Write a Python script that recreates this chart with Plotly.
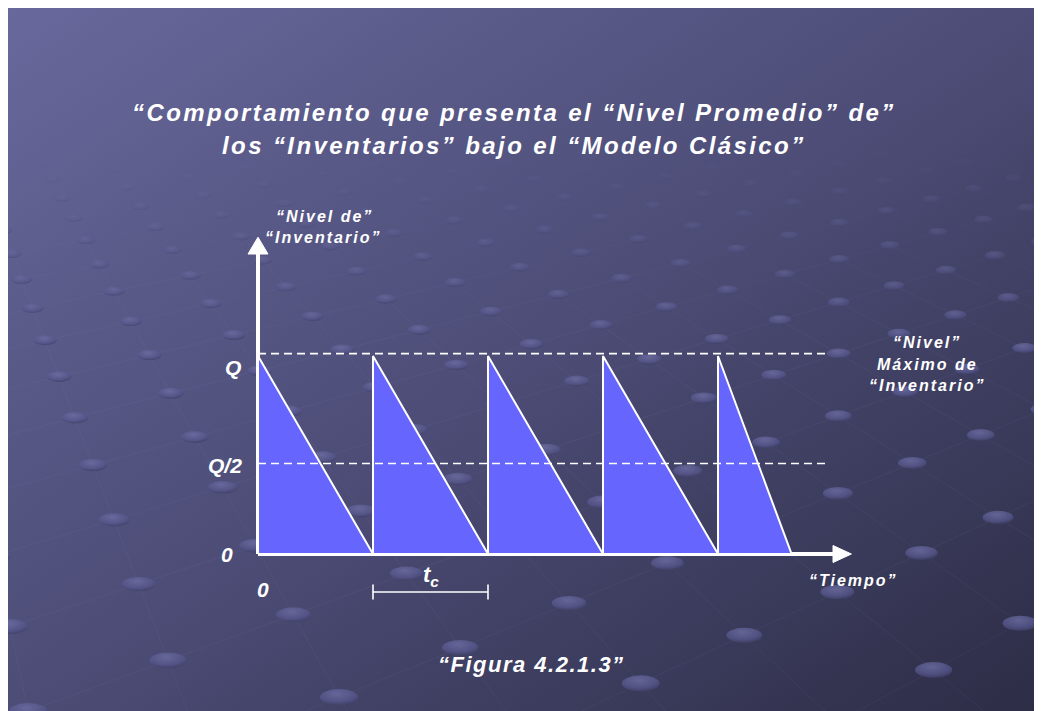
import base64
import math
import plotly.graph_objects as go

W, H = 1042, 711
OFF = 8            # page margin offset

# ---------------- data ----------------
cycle_starts = [0, 1, 2, 3, 4]          # reorder instants (in units of t_c)
cycle_ends = [1, 2, 3, 4, 4.64]         # instants where stock reaches zero
Q_max = 1.0                             # maximum inventory level (Q)
half_line = 0.445                       # drawn position of the "Q/2" reference line
level_values = [Q_max, half_line, 0.0]
level_labels = ["Q", "Q/2", "0"]
ref_lines = [Q_max, half_line]
ref_line_end = 4.957
x_axis_end = 5.16
y_axis_end = 1.60
tc_span = [1, 2]

# ---------------- scales ----------------
x0_px, x_scale = 258 - OFF, 115.0
y0_px, y_scale = 554 - OFF, 198.0
x_range = [-x0_px / x_scale, (W - x0_px) / x_scale]
y_range = [-(H - y0_px) / y_scale, y0_px / y_scale]

FONT = "Arial, Liberation Sans, sans-serif"
WHITE = "#ffffff"
FILL = "#6666ff"

fig = go.Figure()

# axes (drawn first)
ax_w = 4
fig.add_trace(go.Scatter(x=[0, x_axis_end - 0.15], y=[0, 0], mode="lines",
                         line=dict(color=WHITE, width=ax_w), hoverinfo="skip", showlegend=False))
fig.add_trace(go.Scatter(x=[0, 0], y=[0, y_axis_end - 0.07], mode="lines",
                         line=dict(color=WHITE, width=ax_w), hoverinfo="skip", showlegend=False))
# arrow heads
hx = 0.16
hy = 8.5 / y_scale
fig.add_trace(go.Scatter(x=[x_axis_end - hx, x_axis_end, x_axis_end - hx, x_axis_end - hx],
                         y=[hy, 0, -hy, hy], mode="lines", fill="toself", fillcolor=WHITE,
                         line=dict(color=WHITE, width=1), hoverinfo="skip", showlegend=False))
vx = 10.0 / x_scale
vy = 0.085
fig.add_trace(go.Scatter(x=[-vx, 0, vx, -vx], y=[y_axis_end - vy, y_axis_end, y_axis_end - vy, y_axis_end - vy],
                         mode="lines", fill="toself", fillcolor=WHITE,
                         line=dict(color=WHITE, width=1), hoverinfo="skip", showlegend=False))

# saw-tooth inventory triangles
for s, e in zip(cycle_starts, cycle_ends):
    fig.add_trace(go.Scatter(x=[s, s, e, s], y=[0, Q_max, 0, 0], mode="lines",
                             fill="toself", fillcolor=FILL,
                             line=dict(color=WHITE, width=2), hoverinfo="skip", showlegend=False))

# dashed reference lines
for lv in ref_lines:
    fig.add_trace(go.Scatter(x=[0, ref_line_end], y=[lv + 0.012, lv + 0.012], mode="lines",
                             line=dict(color=WHITE, width=1.6, dash="8px,5px"),
                             hoverinfo="skip", showlegend=False))

# t_c bracket
yb = -0.192
tk = 0.038
fig.add_trace(go.Scatter(x=[tc_span[0], tc_span[0], None, tc_span[0], tc_span[1], None, tc_span[1], tc_span[1]],
                         y=[yb - tk, yb + tk, None, yb, yb, None, yb - tk, yb + tk], mode="lines",
                         line=dict(color=WHITE, width=1.6), hoverinfo="skip", showlegend=False))

ann = []


def txt(x, y, text, size, xref="paper", yref="paper", ls=0):
    if xref == "paper":
        x = (x - OFF) / W
    if yref == "paper":
        y = 1 - (y - OFF) / H
    if ls:
        text = f'<span style="letter-spacing:{ls}px">' + text + "</span>"
    ann.append(dict(x=x, y=y, xref=xref, yref=yref, text="<b><i>" + text + "</i></b>", showarrow=False,
                    xanchor="center", yanchor="middle",
                    font=dict(family=FONT, size=size, color=WHITE)))


# title
txt(514, 112, "\u201cComportamiento que presenta el \u201cNivel Promedio\u201d de\u201d", 24, ls=2.4)
txt(514, 145, "los \u201cInventarios\u201d bajo el \u201cModelo Cl\u00e1sico\u201d", 24, ls=2.4)

# level labels (data coordinates)
label_x = [-0.22, -0.29, -0.27]
label_dy = [-0.06, 0.0, 0.0]
for lx, lv, lb, dy in zip(label_x, level_values, level_labels, label_dy):
    txt(lx, lv + dy, lb, 21, xref="x", yref="y")
txt(0.04, -0.18, "0", 21, xref="x", yref="y")

# t_c label
txt((tc_span[0] + tc_span[1]) / 2, -0.11, "t<sub>c</sub>", 22, xref="x", yref="y")

# axis titles
txt(324, 216, "\u201cNivel de\u201d", 16, ls=2)
txt(323, 238, "\u201cInventario\u201d", 16, ls=2)
txt(853, 580, "\u201cTiempo\u201d", 16, ls=2)
txt(927, 343, "\u201cNivel\u201d", 16, ls=2)
txt(927, 364, "M\u00e1ximo de", 16, ls=2)
txt(927, 385, "\u201cInventario\u201d", 16, ls=2)

# caption
txt(531, 664, "\u201cFigura 4.2.1.3\u201d", 22, ls=1.5)

# ---------------- slide background texture (gradient + perspective dot grid) ----------------
parts = []
parts.append(f'<svg xmlns="http://www.w3.org/2000/svg" width="{W}" height="{H}" viewBox="0 0 {W} {H}">')
parts.append('<defs><linearGradient id="g" x1="0" y1="0" x2="1" y2="1">'
             '<stop offset="0" stop-color="#68689c"/><stop offset="0.5" stop-color="#4c4c76"/>'
             '<stop offset="1" stop-color="#2c2c45"/></linearGradient>'
             '<radialGradient id="d" cx="0.45" cy="0.3" r="0.75">'
             '<stop offset="0" stop-color="#6e6ea4"/><stop offset="0.65" stop-color="#55558a"/>'
             '<stop offset="1" stop-color="#3a3a5e"/></radialGradient></defs>')
parts.append(f'<rect x="0" y="0" width="{W}" height="{H}" fill="url(#g)"/>')

FX, FH, yh, cx = 1200.0, 937.0, -226.0, 520.0
spacing = 0.115
th = math.radians(30)


def proj(u, v):
    X = (u * math.cos(th) - v * math.sin(th)) * spacing
    Z = 1.9 + (u * math.sin(th) + v * math.cos(th)) * spacing
    if Z < 0.6:
        return None
    return cx - OFF + FX * X / Z, yh - OFF + FH / Z, Z


def fade(y):
    return max(0.0, min(1.0, (y - 140) / 200.0))


N = 36
# faint grid lines
for k in range(-N, N + 1):
    for fam in (0, 1):
        pts = []
        for t in range(-N, N + 1):
            p = proj(k, t) if fam == 0 else proj(t, k)
            if p is not None and -200 < p[0] < W + 200 and p[1] < H + 100:
                pts.append(p)
        for a, b in zip(pts[:-1], pts[1:]):
            op = 0.09 * fade((a[1] + b[1]) / 2)
            if op > 0.005:
                parts.append(f'<line x1="{a[0]:.1f}" y1="{a[1]:.1f}" x2="{b[0]:.1f}" y2="{b[1]:.1f}" '
                             f'stroke="#a0a0d8" stroke-width="0.8" stroke-opacity="{op:.3f}"/>')
# dots
for u in range(-N, N + 1):
    for v in range(-N, N + 1):
        p = proj(u, v)
        if p is None:
            continue
        x, y, Z = p
        if x < -40 or x > W + 40 or y > H + 30:
            continue
        op = 0.8 * fade(y)
        if op < 0.02:
            continue
        rx = 19.5 / Z
        ry = 8.3 / Z
        parts.append(f'<ellipse cx="{x:.1f}" cy="{y:.1f}" rx="{rx:.1f}" ry="{ry:.1f}" fill="url(#d)" '
                     f'fill-opacity="{op:.2f}"/>')
parts.append('</svg>')
svg = "".join(parts)
src = "data:image/svg+xml;base64," + base64.b64encode(svg.encode()).decode()

fig.update_layout(
    width=W, height=H,
    margin=dict(l=0, r=0, t=0, b=0),
    paper_bgcolor="#3e3e62", plot_bgcolor="rgba(0,0,0,0)",
    xaxis=dict(range=x_range, visible=False, fixedrange=True),
    yaxis=dict(range=y_range, visible=False, fixedrange=True),
    annotations=ann,
    images=[dict(source=src, xref="paper", yref="paper", x=0, y=1,
                 sizex=1, sizey=1, xanchor="left", yanchor="top",
                 sizing="stretch", layer="below")],
    showlegend=False,
)

fig.write_html("out.html")
